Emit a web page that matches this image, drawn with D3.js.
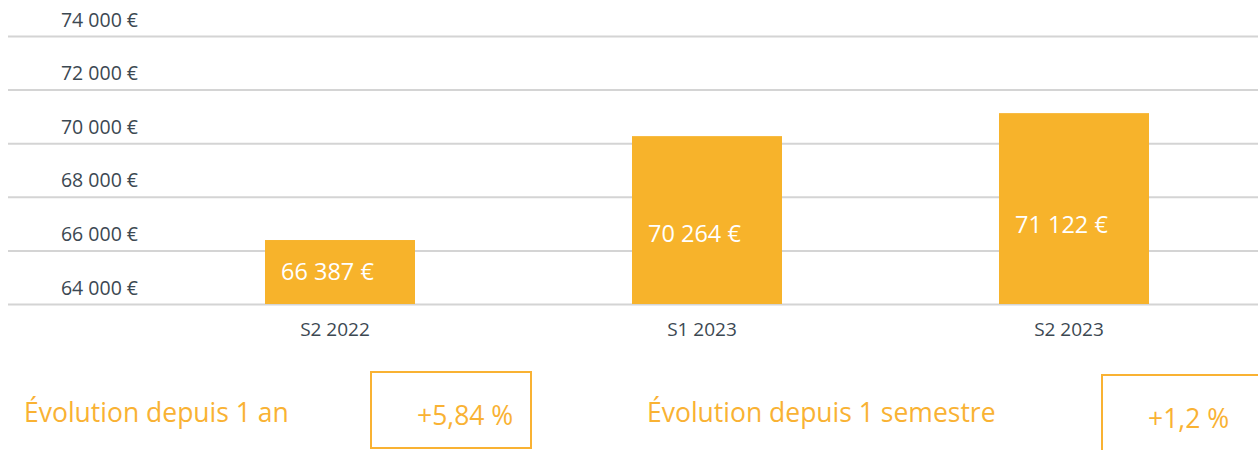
<!DOCTYPE html>
<html>
<head>
<meta charset="utf-8">
<script src="https://cdn.jsdelivr.net/npm/d3@7"></script>
<style>
  body { margin: 0; background: #fff; }
  svg { display: block; font-family: 'Open Sans', sans-serif; }
</style>
</head>
<body>
<script>
// data
const categories = ['S2 2022', 'S1 2023', 'S2 2023'];
const values = [66387, 70264, 71122];
const yTicks = [64000, 66000, 68000, 70000, 72000, 74000];
const summaryLabels = ['Évolution depuis 1 an', 'Évolution depuis 1 semestre'];
const summaryValues = ['+5,84 %', '+1,2 %'];

const width = 1258;
const height = 450;
const barColor = '#f7b32b';
const orange = '#f9b233';
const textGrey = '#3c4852';

const fr = d3.formatLocale({ decimal: ',', thousands: ' ', grouping: [3], currency: ['', ' €'] });
const euro = v => fr.format(',')(v) + ' €';

const svg = d3.select('body').append('svg')
  .attr('width', width)
  .attr('height', height);

const y = d3.scaleLinear()
  .domain([64000, 74000])
  .range([304, 36]);

const x = d3.scalePoint()
  .domain(categories)
  .range([340, 1074]);

const barWidth = 150;

// gridlines + tick labels
const yAxis = svg.append('g')
  .attr('transform', 'translate(8,0)')
  .call(d3.axisLeft(y).tickValues(yTicks).tickSize(-(width - 8)).tickFormat(euro));

yAxis.select('.domain').remove();
yAxis.selectAll('.tick line')
  .attr('stroke', '#d4d4d4')
  .attr('stroke-width', 2);
yAxis.selectAll('.tick text')
  .attr('x', 130)
  .attr('y', -10)
  .attr('dy', 0)
  .attr('text-anchor', 'end')
  .attr('fill', textGrey)
  .style('font-family', "'Open Sans', sans-serif")
  .style('font-size', '19.5px');

// bars
const bars = svg.append('g')
  .selectAll('g')
  .data(values)
  .enter().append('g');

bars.append('rect')
  .attr('x', (d, i) => x(categories[i]) - barWidth / 2)
  .attr('y', d => y(d))
  .attr('width', barWidth)
  .attr('height', d => y.range()[0] - y(d))
  .attr('fill', barColor);

bars.append('text')
  .attr('x', (d, i) => x(categories[i]) - barWidth / 2 + 16)
  .attr('y', d => y(d) + 0.63 * (y.range()[0] - y(d)))
  .attr('fill', '#fff')
  .style('font-size', '23.5px')
  .text(d => euro(d));

// category labels
svg.append('g')
  .selectAll('text')
  .data(categories)
  .enter().append('text')
  .attr('x', d => x(d) - 5)
  .attr('y', 336)
  .attr('text-anchor', 'middle')
  .attr('fill', textGrey)
  .style('font-size', '19px')
  .text(d => d);

// evolution summary
const summary = svg.append('g')
  .selectAll('g')
  .data(summaryLabels)
  .enter().append('g')
  .attr('transform', (d, i) => `translate(${i === 0 ? 24 : 647},0)`);

summary.append('text')
  .attr('x', 0)
  .attr('y', 422)
  .attr('fill', orange)
  .style('font-size', '26.5px')
  .text(d => d);

summary.append('rect')
  .attr('x', (d, i) => i === 0 ? 347 : 455)
  .attr('y', (d, i) => i === 0 ? 372 : 375)
  .attr('width', 160)
  .attr('height', 76)
  .attr('fill', 'none')
  .attr('stroke', orange)
  .attr('stroke-width', 2);

summary.append('text')
  .attr('x', (d, i) => (i === 0 ? 347 : 455) + 46)
  .attr('y', (d, i) => i === 0 ? 425 : 428)
  .attr('fill', orange)
  .style('font-size', '26.5px')
  .text((d, i) => summaryValues[i]);
</script>
</body>
</html>
